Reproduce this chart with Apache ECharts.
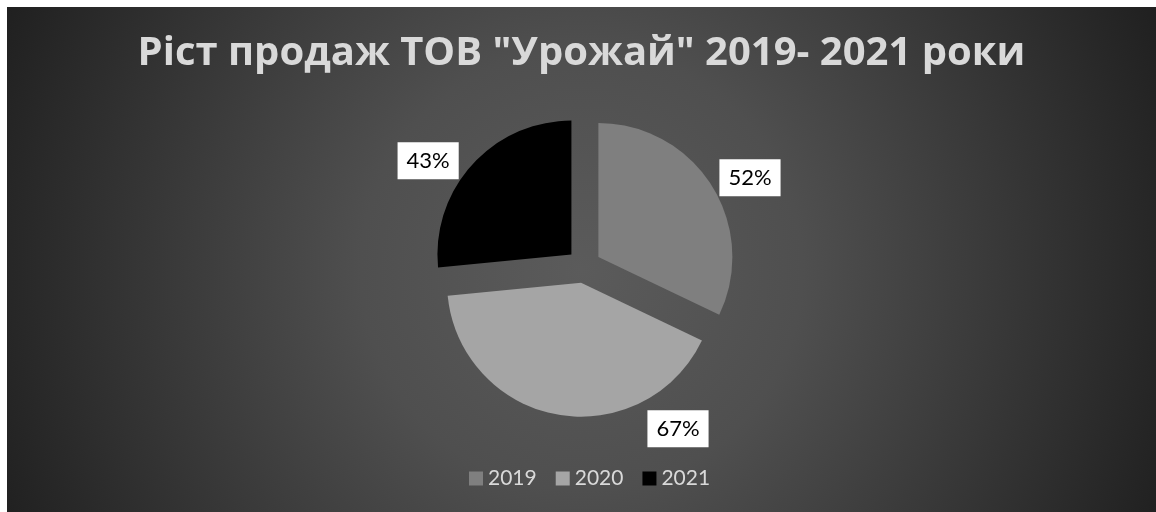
<!DOCTYPE html>
<html>
<head>
<meta charset="utf-8">
<script src="https://cdn.jsdelivr.net/npm/echarts@6/dist/echarts.min.js"></script>
<style>
  html, body { margin: 0; padding: 0; background: #ffffff; width: 1156px; height: 512px; overflow: hidden; }
  #main { position: absolute; left: 7px; top: 7px; width: 1149px; height: 505px; }
</style>
</head>
<body>
<div id="main"></div>
<script>
// Sales growth by year, shown as percentages
const categories = ['2019', '2020', '2021'];
const values = [52, 67, 43];
const titleText = 'Ріст продаж ТОВ "Урожай" 2019- 2021 роки';

// Styling
const sliceColors = ['#7f7f7f', '#a5a5a5', '#000000'];
const pieCenter = [577, 259];
const pieRadius = 134;
// label placement around the pie (degrees clockwise from 12 o'clock, px from centre)
const labelAngles = [62, 150, 304];
const labelDistance = 188;

const pieData = categories.map((name, i) => ({ name: name, value: values[i] }));

const chart = echarts.init(document.getElementById('main'));

chart.setOption({
  backgroundColor: {
    type: 'radial', x: 0.5, y: 0.52, r: 1.25,
    colorStops: [
      { offset: 0, color: '#5b5b5b' },
      { offset: 0.35, color: '#4f4f4f' },
      { offset: 1, color: '#202020' }
    ]
  },
  title: {
    text: titleText,
    left: 'center',
    top: 22,
    textStyle: {
      fontFamily: 'Open Sans',
      fontWeight: 'bold',
      fontSize: 40,
      color: '#d9d9d9'
    }
  },
  legend: {
    data: categories,
    left: 457,
    top: 456,
    icon: 'rect',
    itemWidth: 14,
    itemHeight: 14,
    itemGap: 19,
    textStyle: { fontFamily: 'Lato', fontSize: 21, color: '#d9d9d9' }
  },
  series: [
    {
      // exploded slices
      type: 'pie',
      center: pieCenter,
      radius: pieRadius,
      startAngle: 90,
      clockwise: true,
      selectedMode: 'multiple',
      selectedOffset: 17,
      animation: false,
      silent: true,
      itemStyle: { borderWidth: 0 },
      label: { show: false },
      labelLine: { show: false },
      data: pieData.map((d, i) => ({
        name: d.name,
        value: d.value,
        selected: true,
        itemStyle: { color: sliceColors[i] }
      }))
    },
    {
      // value labels in white boxes
      type: 'pie',
      center: pieCenter,
      radius: pieRadius,
      startAngle: 90,
      clockwise: true,
      animation: false,
      silent: true,
      avoidLabelOverlap: false,
      itemStyle: { color: 'rgba(0,0,0,0)', borderWidth: 0 },
      label: {
        show: true,
        position: 'outside',
        formatter: '{c}%',
        fontFamily: 'Lato',
        fontSize: 22,
        color: '#000000',
        backgroundColor: '#ffffff',
        padding: [8, 9, 7, 9]
      },
      labelLine: { show: false },
      labelLayout: function (params) {
        const a = labelAngles[params.dataIndex] * Math.PI / 180;
        return {
          x: pieCenter[0] + labelDistance * Math.sin(a),
          y: pieCenter[1] - labelDistance * Math.cos(a),
          align: 'center',
          verticalAlign: 'middle'
        };
      },
      data: pieData
    }
  ]
});
</script>
</body>
</html>
